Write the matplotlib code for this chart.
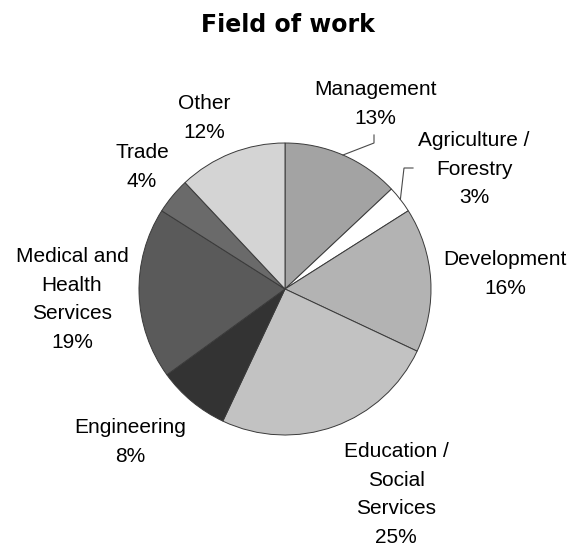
import numpy as np
import matplotlib
matplotlib.use("Agg")
import matplotlib.pyplot as plt

# Share of respondents by field of work (percent), clockwise from 12 o'clock
categories = ["Management", "Agriculture /\nForestry", "Development",
              "Education /\nSocial\nServices", "Engineering",
              "Medical and\nHealth\nServices", "Trade", "Other"]
shares = [13, 3, 16, 25, 8, 19, 4, 12]
colors = ["#a3a3a3", "#ffffff", "#b3b3b3", "#c2c2c2",
          "#333333", "#5a5a5a", "#6a6a6a", "#d4d4d4"]

W, H, DPI = 571, 546, 100
CX, CY, R = 285, 289, 146          # pie centre and radius in pixels

fig = plt.figure(figsize=(W / DPI, H / DPI), dpi=DPI)
ax = fig.add_axes([0, 0, 1, 1])

wedges, _ = ax.pie(shares, colors=colors, startangle=90, counterclock=False,
                   radius=1.0,
                   wedgeprops=dict(edgecolor="#3a3a3a", linewidth=0.7))

ax.set_xlim(-CX / R, (W - CX) / R)
ax.set_ylim(-(H - CY) / R, CY / R)
ax.set_aspect("auto")
ax.axis("off")


def px(x, y):
    """Pixel position (from the top-left corner) to pie data units."""
    return (x - CX) / R, (CY - y) / R


# Label placement: centre x and first baseline y, in pixels
label_pos = [(375, 95), (474, 146), (505, 265), (396, 457),
             (130, 433), (72, 262), (142, 158), (204, 109)]
line_step = 28.7

for cat, val, (lx, ly) in zip(categories, shares, label_pos):
    lines = cat.split("\n") + [f"{val}%"]
    for i, line in enumerate(lines):
        x, y = px(lx, ly + i * line_step)
        ax.text(x, y, line, ha="center", va="baseline", fontsize=15,
                family=["Liberation Sans", "DejaVu Sans"], color="black")

# Leader lines for the two small top-right slices
mids = 90 - 360 * (np.cumsum(shares) - np.array(shares) / 2) / 100
leader_bends = {0: [(374, 143), (374, 135)], 1: [(404, 168), (413, 168)]}
for idx, bends in leader_bends.items():
    a = np.deg2rad(mids[idx])
    xs = [np.cos(a)] + [px(*b)[0] for b in bends]
    ys = [np.sin(a)] + [px(*b)[1] for b in bends]
    ax.plot(xs, ys, color="#4a4a4a", linewidth=0.8, solid_joinstyle="miter")

tx, ty = px(288, 32)
ax.text(tx, ty, "Field of work", ha="center", va="baseline", fontsize=17,
        fontweight="bold", family=["DejaVu Sans"])

fig.savefig("out.png", dpi=DPI)
